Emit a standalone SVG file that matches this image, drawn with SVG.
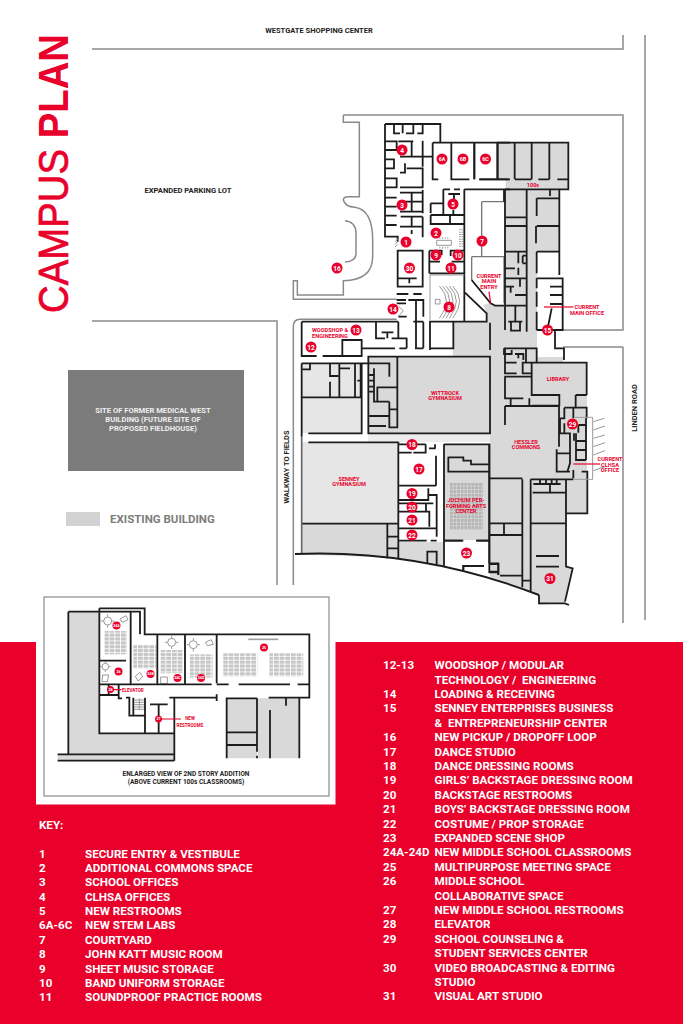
<svg xmlns="http://www.w3.org/2000/svg" width="683" height="1024" viewBox="0 0 683 1024">
<defs>
<style>
text{font-family:Roboto,"Liberation Sans",sans-serif;font-weight:700}
.w{fill:none;stroke:#1c1c1c;stroke-width:5.4}
.p{fill:none;stroke:#8a8a8a;stroke-width:4.5}
.t{fill:none;stroke:#9a9a9a;stroke-width:3}
.r{fill:none;stroke:#e9002b;stroke-width:1.2}
.f1{fill:#d9d9d9}
.f2{fill:#e6e6e6}
.m circle{fill:#e9002b}
.m text{fill:#fff;font-size:6.5px;text-anchor:middle}
.m.s text{font-size:5.4px}
.m.i text{font-size:3.6px}
.l{fill:#e9002b;font-size:5.6px;text-anchor:middle}
.b{fill:#222;text-anchor:middle}
.k{fill:#fff;font-size:11.6px}
</style>
<pattern id="seatJ" x="450" y="483" width="3.6" height="3.6" patternUnits="userSpaceOnUse"><rect width="2.9" height="2.9" fill="#b4b4b4"/></pattern>
<pattern id="seatI" x="0" y="0" width="17" height="11.6" patternUnits="userSpaceOnUse"><rect width="14.500" height="9.400" fill="#c6c6c6"/></pattern>
</defs>
<rect width="683" height="1024" fill="#fff"/>
<g id="fills">
<path class="f1" d="M487,313L483,305L490,303L493,306H505V190L506,180H498V143H568V190H559V252H537V357H563V362H587V478H587V513H566V565L573,568L565,603L539,605V595L490,577V357H453V322H487Z"/>
<rect class="f1" x="368" y="357" width="122" height="76"/>
<rect x="368" y="433" width="122" height="9" fill="#ececec"/>
<rect class="f2" x="302" y="363" width="60" height="70"/>
<rect class="f2" x="302" y="442" width="96" height="82"/>
<rect class="f1" x="443" y="444" width="47" height="96"/>
<path class="f1" d="M302,524H398V542H443V566L387,557.5L302,554.5Z"/>
<rect x="450" y="483" width="33" height="47" fill="url(#seatJ)"/>
</g>
<g id="title">
<text transform="translate(68,313) rotate(-90) scale(.913,1)" font-size="42" fill="#e9002b" stroke="#e9002b" stroke-width=".7" style="font-family:'Liberation Sans',Arial,sans-serif;font-weight:400">CAMPUS <tspan font-weight="700" stroke="none">PLAN</tspan></text>
</g>
<g id="site">
<g transform="translate(280,100) scale(.33333)">
<path class="p" d="M190,45V67H238V290H205Q190,290 190,300Q195,320 225,322Q278,330 278,420V470Q278,540 190,542V585H52V542H40V598H350M190,45H1029V690H849M195,362Q228,365 228,400V460Q228,485 195,486M350,658H60Q40,658 40,680V1455M1029,741H849M1029,741V1569"/>
</g>
<path d="M92,49H623V35M645,35V620M92,321H277V585" fill="none" stroke="#8a8a8a" stroke-width="1.5"/>
<rect x="68" y="370" width="176" height="101" fill="#7b7b7b"/>
<text x="153" y="412.500" font-size="7.6" fill="#eee" text-anchor="middle">SITE OF FORMER MEDICAL WEST</text>
<text x="153" y="421.500" font-size="7.6" fill="#eee" text-anchor="middle">BUILDING (FUTURE SITE OF</text>
<text x="153" y="431" font-size="7.6" fill="#eee" text-anchor="middle">PROPOSED FIELDHOUSE)</text>
<rect x="66" y="512" width="34" height="14" fill="#d2d2d2"/>
<text x="110" y="522.500" font-size="11.500" fill="#7d7d7d">EXISTING BUILDING</text>
<text class="b" x="319" y="33" font-size="7.500">WESTGATE SHOPPING CENTER</text>
<text class="b" x="188" y="192.500" font-size="7.600">EXPANDED PARKING LOT</text>
<text class="b" transform="translate(636.500,408) rotate(-90)" font-size="7.500">LINDEN ROAD</text>
<text class="b" transform="translate(288.500,467) rotate(-90)" font-size="7.500">WALKWAY TO FIELDS</text>
</g>
<g id="walls">
<g transform="translate(280,100) scale(.33333)">
<path class="w" d="M315,72H481V128M342,72V100H360M368,72V100M378,100H400V72M412,100H428V72M315,72V410H353V425M315,124H350V150H315M315,178H342V205H315M315,235H350V262H315M315,293H350M315,320H350M315,347H350M315,375H350M355,124H400M395,124V170M428,122V200M360,170H458M375,190V218H360M380,205H428V262H360M360,278H428M395,278V335M360,305H428M360,335H428M362,350H428M360,380H428M395,350V378M428,270V340M428,350V412M395,390V402"/>
<path class="w" d="M353,452H428V560H353ZM353,535H410M388,535V550M350,582H385M400,582H425M350,600H378M350,610H378M385,600H430V650M408,600V745M430,665V745M400,665H430M405,745H430M355,650H380M355,665V715M380,715V745M335,715H382M358,745H380M65,665H355M65,665V768H110M128,768H245V720H187V768M245,745H345M288,665V715H315M305,697H340M322,697V715"/>
<path class="w" d="M458,128H690M458,128V238H475M514,128V238H568M583,128V238M598,238H690M653,128V238M490,268V345M490,268H510M522,268H540M505,282H540M522,282V300M452,310H490M452,310V340M452,345H553M553,268H690M553,268V665M452,345V372H553M510,345V372M520,330V345M448,452H485V465M448,452V520M448,485H480M515,485H553M448,520H553M512,468V452H553M450,665H520V745H450ZM450,665V750M555,578L620,640V665H450"/>
<path class="t" d="M470,421h44v15h-44zM450,525H553M450,525V660M478,558Q520,600 478,655M488,558Q530,600 488,655M498,558Q540,600 498,655M508,558Q550,600 508,655M518,558Q560,600 518,655M466,598h14v14h-14zM345,425l8,-8M345,433l8,-8M345,441l8,-8M357,620L370,632L357,647"/>
<path d="M540,388v52" stroke="#9a9a9a" stroke-width="5" stroke-dasharray="3 4" fill="none"/>
<path d="M547,388v52" stroke="#9a9a9a" stroke-width="5" stroke-dasharray="3 4" fill="none"/>
<path d="M478,414h30M478,443h30" stroke="#9a9a9a" stroke-width="5" stroke-dasharray="3 5" fill="none"/>
<path d="M605,305V470M605,305H672M575,470V540M575,470H672V610" fill="none" stroke="#777" stroke-width="4"/>
<path class="w" d="M672,268V305M575,540L632,610L645,617H672"/>
<path class="r" style="stroke-width:3.600" d="M627,575L632,610"/>
</g>
<g transform="translate(440,100) scale(.33333)">
<path class="w" d="M172,128H385V268H196M224,128V238M275,128V238M328,128V238M103,128V238M172,128V238M118,238H205M225,238H275M295,238H328M352,238H385M358,268V525M330,268V288M290,295H358M290,295V348M290,378H358M288,378V430M290,455H358M290,455V520M290,535H368V690H290M290,535V565M290,575V620M290,635V690M330,560H368M330,585H368M330,612H368M335,625L322,690M195,268V690M195,352H260M195,378H260M195,455H260M260,268V695M195,505H225M235,455V490M235,503V525M248,467H260M248,490H260M248,467V490M195,535H260M195,560H222M212,560V578M240,535V560M225,585H260M195,617H260M226,617V665M205,665H247M213,665V692H240V665M345,690V745H372V780M150,668V750"/>
<path class="r" style="stroke-width:3.600" d="M312,621H400"/>
</g>
<g transform="translate(280,340) scale(.33333)">
<path class="w" d="M65,70V290M65,70H328V110M68,88H90V70M150,70V108H175M178,70V172M150,125V172M178,85H210M225,70V172M242,70V172M232,122H242M65,172H245M245,70V280H85M265,50V280H630V50ZM352,50V265M282,85V185H328M268,105H280M268,122H280M268,140H280M268,155H282M290,142H352M292,142V185M328,185V262H352M328,208H352M268,228H328M268,258H318M85,307H355M355,305V655M355,338H395M400,338H437V313M355,313H437M447,325H467M465,313V325M468,347V437M358,437H468M355,480H445V445M447,465H470V590M355,490H460M438,490V515M355,515H448V560M355,565H470M355,602H440M452,602H470M492,313V680M490,602H548M590,602H628M492,313H628V700M505,350V395H628M505,352H550V362H573V373H628M442,670V635H470V672M322,553V655M65,551H355M322,590H355M322,625H355M550,690V678H612M628,672H655V705M630,697H655"/>
<path d="M65,290V640" fill="none" stroke="#666" stroke-width="5"/>
</g>
<g transform="translate(440,340) scale(.33333)">
<path class="w" d="M192,25H290V68M192,25V45M215,30V42H192M195,28V100H230M196,68H230M225,42H250V60M235,42V55M248,68H275V100H248ZM258,28V68M193,110H275M195,110V175H250M212,178V198M268,175V198M275,68V165H358V198M275,68H440V165M277,197H358M195,198H357V320M195,198V255M407,165H440M407,165V200M373,203H440V235M373,203V235H360V280H390V340H350V395H390M400,203V235M350,328V340M373,250V280M415,255H438M415,255V278M438,235V360M408,280V360H438M408,303H438M408,330H438M402,280V302M390,340V370L382,395M400,390V415M425,395H442V520H378V418M150,415H247M247,418V742M272,418V722M272,418H400M148,312V600M150,550H247M192,550V585M148,585H247M148,670H175V705M148,695H175M180,707H247M247,722H272V755M378,520V680L398,685L375,785M387,795L375,790H297V765M272,550H378M288,648H357M288,680H357M280,432H362M300,418V432M318,418V432M335,418V432M350,418V432M278,458H378M330,432V458M148,600V670M70,690V678H132M12,602H70M108,602H148"/>
<path class="t" d="M405,232H458V418H400M460,245L493,235M460,270L495,258M460,295L495,285M460,320L495,308M460,345L495,332M460,392L495,380"/>
<path class="r" style="stroke-width:3.600" d="M400,372H480"/>
</g>
<path d="M295,554Q420,549 539,595" fill="none" stroke="#1c1c1c" stroke-width="1.900"/>
</g>
<g id="plan-labels">
<text class="l" x="330" y="332">WOODSHOP &amp;</text>
<text class="l" x="330" y="338">ENGINEERING</text>
<text class="l" x="489" y="278">CURRENT</text><text class="l" x="489" y="283">MAIN</text><text class="l" x="489" y="288.500">ENTRY</text>
<text class="l" x="533" y="187">100s</text>
<text class="l" x="587" y="309">CURRENT</text><text class="l" x="587" y="314.500">MAIN OFFICE</text>
<text class="l" x="445" y="395">WITTROCK</text><text class="l" x="445" y="400">GYMNASIUM</text>
<text class="l" x="349" y="481">SENNEY</text><text class="l" x="349" y="486">GYMNASIUM</text>
<text class="l" x="466" y="502">JOCHUM PER-</text><text class="l" x="466" y="508">FORMING ARTS</text><text class="l" x="466" y="513">CENTER</text>
<text class="l" x="558" y="381">LIBRARY</text>
<text class="l" x="526" y="444">HESSLER</text><text class="l" x="526" y="449">COMMONS</text>
<text class="l" x="610" y="461">CURRENT</text><text class="l" x="610" y="466.500">CLHSA</text><text class="l" x="610" y="471.500">OFFICE</text>
</g>
<g id="markers">
<g id="m1" class="m"><circle cx="406" cy="242" r="5.500"/><text x="406" y="244.500">1</text></g>
<g id="m2" class="m"><circle cx="436" cy="233" r="5.500"/><text x="436" y="235.500">2</text></g>
<g id="m3" class="m"><circle cx="402" cy="205" r="5.500"/><text x="402" y="207.500">3</text></g>
<g id="m4" class="m"><circle cx="402" cy="150" r="5.500"/><text x="402" y="152.500">4</text></g>
<g id="m5" class="m"><circle cx="453" cy="204" r="5.500"/><text x="453" y="206.500">5</text></g>
<g id="m6a" class="m s"><circle cx="442" cy="159" r="5.500"/><text x="442" y="161">6A</text></g>
<g id="m6b" class="m s"><circle cx="463" cy="159" r="5.500"/><text x="463" y="161">6B</text></g>
<g id="m6c" class="m s"><circle cx="485.500" cy="159" r="5.500"/><text x="485.500" y="161">6C</text></g>
<g id="m7" class="m"><circle cx="482" cy="241" r="5.500"/><text x="482" y="243.500">7</text></g>
<g id="m8" class="m"><circle cx="449" cy="307" r="5.500"/><text x="449" y="309.500">8</text></g>
<g id="m9" class="m"><circle cx="436" cy="255" r="5.500"/><text x="436" y="257.500">9</text></g>
<g id="m10" class="m"><circle cx="458" cy="255" r="5.500"/><text x="458" y="257.500">10</text></g>
<g id="m11" class="m"><circle cx="451" cy="268" r="5.500"/><text x="451" y="270.500">11</text></g>
<g id="m12" class="m"><circle cx="311" cy="347" r="5.500"/><text x="311" y="349.500">12</text></g>
<g id="m13" class="m"><circle cx="356" cy="330" r="5.500"/><text x="356" y="332.500">13</text></g>
<g id="m14" class="m"><circle cx="393" cy="309" r="5.500"/><text x="393" y="311.500">14</text></g>
<g id="m15" class="m"><circle cx="547.500" cy="330" r="5.500"/><text x="547.500" y="332.500">15</text></g>
<g id="m16" class="m"><circle cx="337" cy="268" r="5.500"/><text x="337" y="270.500">16</text></g>
<g id="m17" class="m"><circle cx="419" cy="469" r="5.500"/><text x="419" y="471.500">17</text></g>
<g id="m18" class="m"><circle cx="412" cy="444.500" r="5.500"/><text x="412" y="447">18</text></g>
<g id="m19" class="m"><circle cx="412" cy="493.500" r="5.500"/><text x="412" y="496">19</text></g>
<g id="m20" class="m"><circle cx="412" cy="507" r="5.500"/><text x="412" y="509.500">20</text></g>
<g id="m21" class="m"><circle cx="412" cy="520" r="5.500"/><text x="412" y="522.500">21</text></g>
<g id="m22" class="m"><circle cx="412" cy="535" r="5.500"/><text x="412" y="537.500">22</text></g>
<g id="m23" class="m"><circle cx="466.500" cy="553" r="5.500"/><text x="466.500" y="555.500">23</text></g>
<g id="m29" class="m"><circle cx="572.500" cy="424" r="5.500"/><text x="572.500" y="426.500">29</text></g>
<g id="m30" class="m"><circle cx="409.500" cy="268" r="5.500"/><text x="409.500" y="270.500">30</text></g>
<g id="m31" class="m"><circle cx="550" cy="578.500" r="5.500"/><text x="550" y="581">31</text></g>
</g>
<g id="key-panel">
<rect y="642" width="683" height="382" fill="#e9002b"/>
<rect x="36" y="640" width="299.500" height="164.500" fill="#fff"/>
</g>
<g id="inset">
<rect x="44" y="597" width="285" height="199" fill="none" stroke="#8a8a8a" stroke-width="1.200"/>
<g transform="translate(36,595) scale(.33333)">
<path class="f1" d="M97,50H190V415H415V478H97ZM65,478H415V497H65ZM572,310H663V490H572ZM665,310H790V490H665Z"/>
<rect x="206" y="108" width="67" height="70" fill="url(#seatI)"/>
<rect x="292" y="150" width="68" height="70" fill="url(#seatI)"/>
<rect x="373" y="165" width="68" height="70" fill="url(#seatI)"/>
<rect x="462" y="178" width="68" height="70" fill="url(#seatI)"/>
<rect x="562" y="175" width="102" height="69" fill="url(#seatI)"/>
<rect x="700" y="175" width="102" height="69" fill="url(#seatI)"/>
<path class="t" d="M203,78a12,12 0 1,0 24,0a12,12 0 1,0 -24,0M215,58v8M215,90v8M195,78h8M227,78h8M198,215a10,10 0 1,0 20,0a10,10 0 1,0 -20,0M208,199v6M208,225v6M192,215h6M218,215h6M395,142a12,12 0 1,0 24,0a12,12 0 1,0 -24,0M407,122v8M407,154v8M387,142h8M419,142h8M460,149a12,12 0 1,0 24,0a12,12 0 1,0 -24,0M472,129v8M472,161v8M452,149h8M484,149h8M252,72L270,62L276,74L258,82ZM508,142L526,134L532,148L514,152ZM298,244L312,232L320,246L306,258ZM200,240L218,240L214,260L198,260ZM374,246H394V266H374Z"/>
<path d="M637,133H727" stroke="#a0a0a0" stroke-width="5" fill="none"/>
<path class="t" d="M296,315H326M296,322H326M296,329H326M296,336H326M296,343H326M310,310V345"/>
<path class="w" d="M97,50H190M97,50V478M65,478H415M65,497H415M415,305V497M190,40H326V118H820V308H698M190,40V415H415M190,50H312V118M284,50V268H190M190,197H270M284,118V268M364,118V268M447,118V268M542,118V265M284,268H527M542,268H578M608,268H762M785,268H820M190,300H248V268M218,268V300M248,300V310H258M270,308H280V362H292M292,308V362H327M327,308V415M400,308H540M542,298V318M342,328H395M368,328V415M663,310H572V490M663,310V470M663,482V490M572,412H663M572,450H663M698,308H790V490M750,308V332M702,345V490"/>
<path class="r" style="stroke-width:3.600" d="M223,284H256M367,372H435"/>
</g>
<g class="m i"><circle cx="116.500" cy="625.500" r="4"/><text x="116.500" y="626.800">24A</text></g>
<g class="m i"><circle cx="118.500" cy="671.500" r="4"/><text x="118.500" y="672.800">26</text></g>
<g class="m i"><circle cx="150.500" cy="674" r="4"/><text x="150.500" y="675.300">24B</text></g>
<g class="m i"><circle cx="177.500" cy="678" r="4"/><text x="177.500" y="679.300">24C</text></g>
<g class="m i"><circle cx="201" cy="678" r="4"/><text x="201" y="679.300">24D</text></g>
<g class="m i"><circle cx="264" cy="647.500" r="4"/><text x="264" y="648.800">25</text></g>
<g class="m i"><circle cx="110.500" cy="689.500" r="3.500"/><text x="110.500" y="690.800">28</text></g>
<g class="m i"><circle cx="158.500" cy="719" r="3.500"/><text x="158.500" y="720.300">27</text></g>
<text x="122" y="692.300" font-size="4.500" fill="#e9002b">ELEVATOR</text>
<text x="190" y="720" font-size="4.500" fill="#e9002b" text-anchor="middle">NEW</text>
<text x="190" y="727" font-size="4.500" fill="#e9002b" text-anchor="middle">RESTROOMS</text>
<text class="b" x="186" y="775.500" font-size="6.500">ENLARGED VIEW OF 2ND STORY ADDITION</text>
<text class="b" x="186" y="783.500" font-size="6.500">(ABOVE CURRENT 100s CLASSROOMS)</text>
</g>
<g id="key-left">
<text class="k" x="39" y="829">KEY:</text>
<text class="k" x="39" y="857.500">1</text><text class="k" x="85" y="857.500">SECURE ENTRY &amp; VESTIBULE</text>
<text class="k" x="39" y="872">2</text><text class="k" x="85" y="872">ADDITIONAL COMMONS SPACE</text>
<text class="k" x="39" y="886.300">3</text><text class="k" x="85" y="886.300">SCHOOL OFFICES</text>
<text class="k" x="39" y="900.700">4</text><text class="k" x="85" y="900.700">CLHSA OFFICES</text>
<text class="k" x="39" y="915">5</text><text class="k" x="85" y="915">NEW RESTROOMS</text>
<text class="k" x="39" y="929.400">6A-6C</text><text class="k" x="85" y="929.400">NEW STEM LABS</text>
<text class="k" x="39" y="943.800">7</text><text class="k" x="85" y="943.800">COURTYARD</text>
<text class="k" x="39" y="958.200">8</text><text class="k" x="85" y="958.200">JOHN KATT MUSIC ROOM</text>
<text class="k" x="39" y="972.600">9</text><text class="k" x="85" y="972.600">SHEET MUSIC STORAGE</text>
<text class="k" x="39" y="987">10</text><text class="k" x="85" y="987">BAND UNIFORM STORAGE</text>
<text class="k" x="39" y="1001.400">11</text><text class="k" x="85" y="1001.400">SOUNDPROOF PRACTICE ROOMS</text>
</g>
<g id="key-right">
<text class="k" x="383" y="669.300">12-13</text><text class="k" x="434.500" y="669.300">WOODSHOP / MODULAR</text>
<text class="k" x="434.500" y="683.700" xml:space="preserve">TECHNOLOGY /  ENGINEERING</text>
<text class="k" x="383" y="698">14</text><text class="k" x="434.500" y="698">LOADING &amp; RECEIVING</text>
<text class="k" x="383" y="712.400">15</text><text class="k" x="434.500" y="712.400">SENNEY ENTERPRISES BUSINESS</text>
<text class="k" x="434.500" y="726.800" xml:space="preserve">&amp;  ENTREPRENEURSHIP CENTER</text>
<text class="k" x="383" y="741.200">16</text><text class="k" x="434.500" y="741.200">NEW PICKUP / DROPOFF LOOP</text>
<text class="k" x="383" y="755.600">17</text><text class="k" x="434.500" y="755.600">DANCE STUDIO</text>
<text class="k" x="383" y="770">18</text><text class="k" x="434.500" y="770">DANCE DRESSING ROOMS</text>
<text class="k" x="383" y="784.400">19</text><text class="k" x="434.500" y="784.400">GIRLS’ BACKSTAGE DRESSING ROOM</text>
<text class="k" x="383" y="798.800">20</text><text class="k" x="434.500" y="798.800">BACKSTAGE RESTROOMS</text>
<text class="k" x="383" y="813.200">21</text><text class="k" x="434.500" y="813.200">BOYS’ BACKSTAGE DRESSING ROOM</text>
<text class="k" x="383" y="827.600">22</text><text class="k" x="434.500" y="827.600">COSTUME / PROP STORAGE</text>
<text class="k" x="383" y="842">23</text><text class="k" x="434.500" y="842">EXPANDED SCENE SHOP</text>
<text class="k" x="383" y="856.400">24A-24D</text><text class="k" x="434.500" y="856.400">NEW MIDDLE SCHOOL CLASSROOMS</text>
<text class="k" x="383" y="870.800">25</text><text class="k" x="434.500" y="870.800">MULTIPURPOSE MEETING SPACE</text>
<text class="k" x="383" y="885.200">26</text><text class="k" x="434.500" y="885.200">MIDDLE SCHOOL</text>
<text class="k" x="434.500" y="899.600">COLLABORATIVE SPACE</text>
<text class="k" x="383" y="914">27</text><text class="k" x="434.500" y="914">NEW MIDDLE SCHOOL RESTROOMS</text>
<text class="k" x="383" y="928.400">28</text><text class="k" x="434.500" y="928.400">ELEVATOR</text>
<text class="k" x="383" y="942.800">29</text><text class="k" x="434.500" y="942.800">SCHOOL COUNSELING &amp;</text>
<text class="k" x="434.500" y="957.200">STUDENT SERVICES CENTER</text>
<text class="k" x="383" y="971.600">30</text><text class="k" x="434.500" y="971.600">VIDEO BROADCASTING &amp; EDITING</text>
<text class="k" x="434.500" y="986">STUDIO</text>
<text class="k" x="383" y="1000.400">31</text><text class="k" x="434.500" y="1000.400">VISUAL ART STUDIO</text>
</g>
</svg>
